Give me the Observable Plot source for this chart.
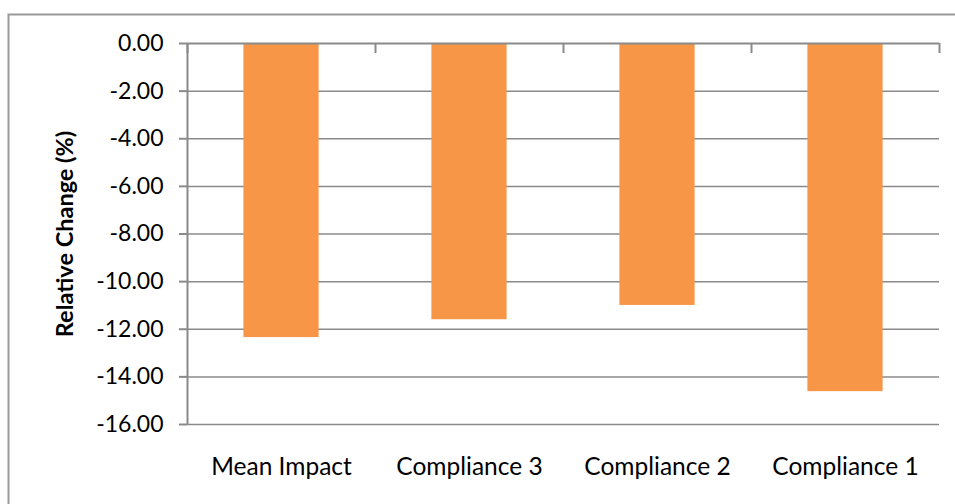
<!DOCTYPE html>
<html>
<head>
<meta charset="utf-8">
<script src="https://cdn.jsdelivr.net/npm/d3@7"></script>
<script src="https://cdn.jsdelivr.net/npm/@observablehq/plot@0.6"></script>
<style>
  html, body { margin: 0; padding: 0; background: #fff; }
  svg { display: block; }
</style>
</head>
<body>
<div id="chart"></div>
<script>
// Data
const categories = ["Mean Impact", "Compliance 3", "Compliance 2", "Compliance 1"];
const values = [-12.35, -11.6, -11.0, -14.62];
const yTicks = [0, -2, -4, -6, -8, -10, -12, -14, -16];
const yTitle = "Relative Change (%)";

const data = categories.map((c, i) => ({category: c, index: i, value: values[i]}));
const boundaries = d3.range(categories.length + 1);
const centers = categories.map((c, i) => i + 0.5);
const barHalf = 0.2; // bar occupies 40% of each category slot
const gray = "#8a8a8a";
const font = "Lato, 'Open Sans', sans-serif";

const chart = Plot.plot({
  width: 955,
  height: 504,
  marginLeft: 187,
  marginRight: 16,
  marginTop: 43,
  marginBottom: 80,
  style: {fontFamily: font, background: "#fff", color: "#000"},
  x: {type: "linear", domain: [0, categories.length], axis: null},
  y: {domain: [-16, 0], axis: null},
  marks: [
    Plot.frame({stroke: "#999", strokeWidth: 2, insetLeft: -179, insetTop: -29, insetRight: -60, insetBottom: -120}),
    Plot.gridY(yTicks.filter(d => d !== 0), {stroke: gray, strokeOpacity: 1, strokeWidth: 1.5}),
    Plot.rectY(data, {
      x1: d => d.index + 0.5 - barHalf,
      x2: d => d.index + 0.5 + barHalf,
      y1: 0,
      y2: "value",
      fill: "#F79646"
    }),
    Plot.ruleY([0], {stroke: gray, strokeWidth: 2}),
    Plot.ruleX([0], {stroke: gray, strokeWidth: 2}),
    Plot.ruleX(boundaries, {x: d => d, y1: 0, y2: 0, insetBottom: -10, stroke: gray, strokeWidth: 2}),
    Plot.axisY({
      ticks: yTicks,
      tickSize: 8,
      tickPadding: 16,
      tickFormat: d => d.toFixed(2),
      stroke: gray,
      strokeWidth: 2,
      fontSize: 23,
      fill: "#000",
      label: null
    }),
    Plot.axisX({
      anchor: "bottom",
      ticks: centers,
      tickSize: 0,
      tickPadding: 33,
      tickFormat: d => categories[Math.floor(d)],
      fontSize: 24.5,
      fill: "#000",
      label: null
    }),
    Plot.text([yTitle], {
      frameAnchor: "left",
      textAnchor: "middle",
      dx: -122,
      rotate: -90,
      text: d => d,
      fontSize: 23.5,
      fontWeight: "bold",
      fill: "#000"
    })
  ]
});
document.getElementById("chart").appendChild(chart);
</script>
</body>
</html>
